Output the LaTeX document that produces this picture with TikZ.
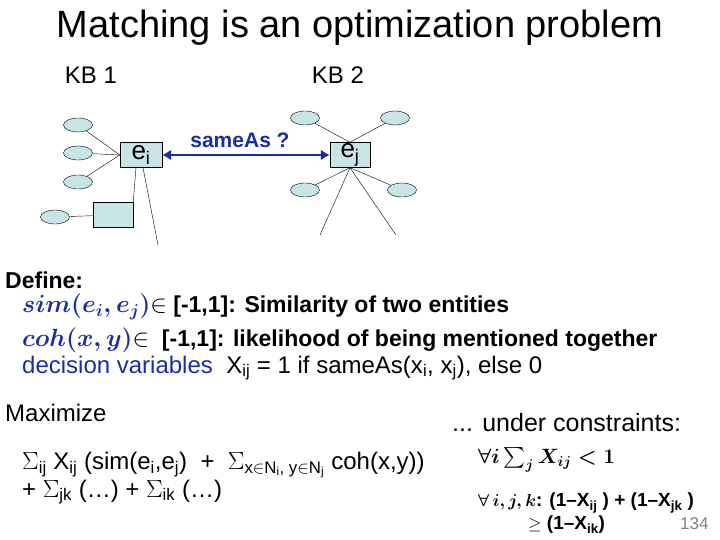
\documentclass[tikz,border=0pt]{standalone}
\usepackage{fontspec}
\usepackage{amsmath}
\setmainfont{Liberation Sans}
\usetikzlibrary{shapes.geometric, arrows.meta, positioning}
\definecolor{kbblue}{RGB}{25,45,165}
\definecolor{kbfill}{RGB}{200,228,230}
\tikzstyle{entity} = [rectangle, draw, fill=kbfill, minimum width=42pt, minimum height=25pt, inner sep=0pt]
\tikzstyle{attr} = [ellipse, draw, fill=kbfill, minimum width=29pt, minimum height=14pt, inner sep=0pt]
\tikzstyle{txt} = [anchor=west, inner sep=0pt]
\begin{document}
\begin{tikzpicture}[x=1pt, y=-1pt, every node/.style={font=\fontsize{24}{28}\selectfont}]
\useasboundingbox (0,0) rectangle (720,540);

% Title and headers
\node (title) at (360,28) {\fontsize{38}{42}\selectfont Matching is an optimization problem};
\node (kb1) at (91,75) {KB 1};
\node (kb2) at (338,75) {KB 2};

% KB 1
\node[entity] (ei) at (141,155) {\fontsize{26}{28}\selectfont e\textsubscript{i}};
\node[attr] (a1) at (78,125) {};
\node[attr] (a2) at (78,153) {};
\node[attr] (a3) at (78,182) {};
\node[entity, minimum width=40pt] (r1) at (113,215) {};
\node[attr] (a4) at (55,217) {};
\coordinate (c1) at (158,245);
\draw (ei.west) -- (a1);
\draw (ei.west) -- (a2);
\draw (ei.west) -- (a3);
\draw (a4) -- (r1);
\draw (ei.south) ++(-5,0) coordinate (eib) -- (r1.north east);
\draw (ei.south) ++(2,0) -- (c1);

% KB 2
\node[entity, minimum width=40pt] (ej) at (350,155) {\fontsize{26}{28}\selectfont e\textsubscript{j}};
\node[attr] (b1) at (305,118) {};
\node[attr] (b2) at (395,118) {};
\node[attr] (b3) at (305,190) {};
\node[attr] (b4) at (402,190) {};
\coordinate (c2) at (320,235);
\coordinate (c3) at (396,235);
\draw (ej.north) -- (b1);
\draw (ej.north) -- (b2);
\draw (ej.south) -- (b3);
\draw (ej.south) -- (b4);
\draw (ej.south) -- (c2);
\draw (ej.south) -- (c3);

% sameAs link
\draw[kbblue, line width=2.5pt, {Latex[length=9pt,width=11pt]}-{Latex[length=9pt,width=11pt]}] (ei) -- (ej);
\node[kbblue, font=\bfseries\fontsize{21}{24}\selectfont] (same) at (240,140) {sameAs ?};

% Definitions
\node[txt] (def) at (5,280) {\bfseries\fontsize{23}{26}\selectfont Define:};
\node[txt] (sim) at (22,307) {\bfseries\fontsize{23}{26}\selectfont \color{kbblue}$\boldsymbol{sim(e_i,e_j)}$\color{black} $\in$ [-1,1]: Similarity of two entities};
\node[txt] (coh) at (22,340) {\bfseries\fontsize{23}{26}\selectfont \color{kbblue}$\boldsymbol{coh(x,y)}$\color{black} $\in$\ \ [-1,1]: likelihood of being mentioned together};
\node[txt] (dec) at (22,368) {\textcolor{kbblue}{decision variables}\ \ X\textsubscript{ij} = 1 if sameAs(x\textsubscript{i}, x\textsubscript{j}), else 0};

% Objective
\node[txt] (max) at (5,413) {Maximize};
\node[txt] (obj1) at (22,465) {$\Sigma$\textsubscript{ij} X\textsubscript{ij} (sim(e\textsubscript{i},e\textsubscript{j})\ \ +\ \ $\Sigma$\textsubscript{x$\in$N\textsubscript{i}, y$\in$N\textsubscript{j}} coh(x,y))};
\node[txt] (obj2) at (22,492) {+ $\Sigma$\textsubscript{jk} (\dots) + $\Sigma$\textsubscript{ik} (\dots)};

% Constraints
\node[txt] (under) at (452,423) {\fontsize{25}{28}\selectfont ... under constraints:};
\node[txt] (con1) at (478,460) {\fontsize{20}{22}\selectfont $\boldsymbol{\forall i \sum\nolimits_j X_{ij} < 1}$};
\node[txt] (con2) at (478,503) {\fontsize{19}{22}\selectfont\bfseries $\boldsymbol{\forall\, i,j,k}$: (1--X\textsubscript{ij} ) + (1--X\textsubscript{jk} )};
\node[txt] (con3) at (528,525) {\fontsize{19}{22}\selectfont\bfseries $\geq$ (1--X\textsubscript{ik})};
\node[txt, gray, font=\fontsize{17}{20}\selectfont] (page) at (680,524) {134};
\end{tikzpicture}
\end{document}
